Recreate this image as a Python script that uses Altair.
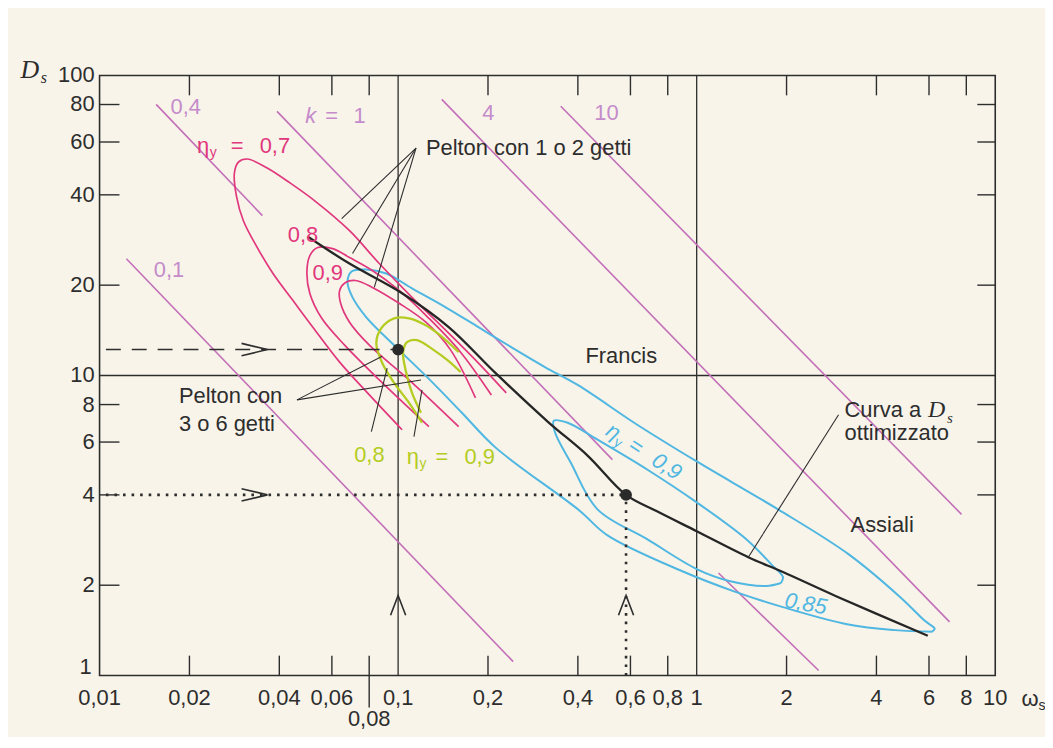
import altair as alt
import pandas as pd

# ---------------- data ----------------
x_tick_labels = [0.01, 0.02, 0.04, 0.06, 0.1, 0.2, 0.4, 0.6, 0.8, 1, 2, 4, 6, 8, 10]
x_tick_text = ["0,01", "0,02", "0,04", "0,06", "0,1", "0,2", "0,4", "0,6", "0,8", "1", "2", "4", "6", "8", "10"]
x_minor_ticks = [0.02, 0.04, 0.06, 0.08, 0.2, 0.4, 0.6, 0.8, 2, 4, 6, 8]
x_low_label = [0.08]
x_low_text = ["0,08"]
y_tick_labels = [2, 4, 6, 8, 10, 20, 40, 60, 80, 100]
y_tick_text = ["2", "4", "6", "8", "10", "20", "40", "60", "80", "100"]
y_bottom_label = [1]
y_bottom_text = ["1"]
y_minor_ticks = [2, 4, 6, 8, 20, 40, 60, 80]
ref_x = [0.1, 1]
ref_y = [10]

# constant-k diagonal lines (segments)
k_seg_id = ["0,1", "0,4", "1a", "1b", "4", "10"]
k_x_start = [0.0123, 0.01547, 0.0393, 1.183, 0.140, 0.3506]
k_y_start = [24.5, 80.1, 75.9, 2.196, 83.2, 78.9]
k_x_end = [0.2428, 0.0351, 0.522, 2.562, 7.03, 7.71]
k_y_end = [1.113, 34.1, 5.245, 1.039, 1.51, 3.445]
k_label_text = ["0,1", "0,4", "4", "10"]
k_label_x = [0.01708, 0.01945, 0.2006, 0.4985]
k_label_y = [22.4, 78.3, 74.8, 74.8]
k1_label_x = [0.051]
k1_label_y = [73.1]

# Pelton 1-2 jets efficiency contours (magenta)
p07_x = [0.1031, 0.0801, 0.0637, 0.0518, 0.0444, 0.0381, 0.03375, 0.03032, 0.02873, 0.02829, 0.02918,
         0.03126, 0.03643, 0.04344, 0.05258, 0.06875, 0.08647, 0.1113, 0.1443, 0.1858, 0.2302]
p07_y = [6.596, 8.615, 11.08, 14.49, 17.80, 21.88, 26.69, 32.80, 39.70, 47.32, 51.45,
         52.65, 49.15, 43.83, 38.20, 30.38, 23.61, 18.21, 14.16, 11.00, 8.75]
p08_x = [0.1268, 0.0865, 0.0662, 0.05549, 0.05063, 0.04948, 0.05063, 0.05381, 0.06035, 0.06875,
         0.08195, 0.1008, 0.1268, 0.1619, 0.2052]
p08_y = [6.749, 9.663, 12.62, 15.51, 18.77, 22.04, 25.10, 26.69, 26.48, 24.72,
         22.38, 19.21, 15.51, 11.96, 8.615]
p09_x = [0.1595, 0.1088, 0.0801, 0.06875, 0.06419, 0.0637, 0.06667, 0.07197, 0.08195, 0.1008,
         0.1239, 0.1500, 0.1816]
p09_y = [6.749, 9.663, 12.62, 15.05, 17.40, 19.21, 20.42, 20.73, 19.66, 17.40,
         15.05, 12.15, 8.421]

# Pelton 3-6 jets contours (green)
g08_x = [0.1202, 0.1088, 0.09698, 0.08848, 0.08451, 0.0878, 0.09698, 0.1088, 0.122, 0.1368, 0.1595]
g08_y = [6.958, 8.105, 9.443, 11.00, 12.82, 14.37, 15.51, 15.51, 14.82, 13.73, 11.96]
g09_x = [0.1193, 0.1113, 0.1063, 0.1039, 0.1071, 0.1156, 0.1317, 0.1477, 0.1619]
g09_y = [7.51, 8.75, 10.27, 11.96, 12.92, 13.12, 12.15, 11.17, 10.27]

# Francis contours (blue)
f085_x = [6.13, 4.618, 3.223, 1.945, 1.341, 0.8913, 0.5012, 0.4045, 0.2117, 0.1632, 0.1268, 0.09849,
          0.07826, 0.07036, 0.06769, 0.06982, 0.07826, 0.09124, 0.1113, 0.1443, 0.1858, 0.2392,
          0.3102, 0.3994, 0.6322, 1.0, 1.873, 3.223, 4.798, 5.809, 6.27, 6.13]
f085_y = [1.399, 1.417, 1.479, 1.690, 1.904, 2.230, 2.938, 3.55, 5.76, 7.53, 9.74, 12.43,
          15.63, 18.21, 20.42, 22.21, 22.55, 21.88, 19.51, 16.87, 14.49, 12.43,
          10.67, 9.299, 6.852, 5.17, 3.58, 2.539, 1.828, 1.522, 1.432, 1.399]
f09_x = [1.916, 1.708, 1.287, 1.0, 0.6823, 0.4654, 0.3785, 0.3348, 0.3322, 0.3699, 0.4654, 0.6823,
         1.0, 1.466, 1.775, 1.945, 1.916]
f09_y = [2.034, 1.988, 2.066, 2.264, 2.847, 3.58, 5.127, 6.496, 7.065, 6.958, 6.109, 4.86,
         3.777, 2.847, 2.352, 2.13, 2.034]

# optimised-Ds curve (black)
opt_x = [0.0499, 0.0687, 0.1031, 0.1477, 0.2117, 0.3175, 0.431, 0.58, 0.7363, 1.0, 1.489, 1.945, 2.918, 5.943]
opt_y = [29.0, 23.6, 18.8, 14.5, 10.2, 7.01, 5.41, 4.0, 3.526, 3.026, 2.48, 2.213, 1.842, 1.357]

# design points and guide lines
dot_x = [0.1, 0.58]
dot_y = [12.2, 4.0]
dash_x = [0.0105, 0.1]
dash_y = [12.2, 12.2]
dotted_id = ["h", "h", "v", "v"]
dotted_x = [0.0105, 0.58, 0.58, 0.58]
dotted_y = [4.0, 4.0, 1.0, 4.0]
arrow_r_x = [0.0365, 0.0365]
arrow_r_y = [12.2, 4.0]
arrow_u_x = [0.1, 0.58]
arrow_u_y = [1.85, 1.85]

# leader lines
lead_x0 = [0.1148, 0.1148, 0.1148, 0.04583, 0.04583, 0.08133, 0.113, 2.987]
lead_y0 = [57.28, 57.28, 57.28, 8.293, 8.293, 6.496, 6.252, 7.396]
lead_x1 = [0.0647, 0.07036, 0.0832, 0.08848, 0.1193, 0.0919, 0.1202, 1.489]
lead_y1 = [33.3, 25.49, 19.66, 11.6, 9.663, 10.59, 8.951, 2.48]

# annotations
dark_text = ["Pelton con 1 o 2 getti", "Pelton con", "3 o 6 getti", "Curva a", "ottimizzato"]
dark_text_x = [0.1239, 0.01844, 0.01844, 3.126, 3.126]
dark_text_y = [57.28, 8.551, 6.906, 7.685, 6.446]
center_text = ["Francis", "Assiali"]
center_text_x = [0.5592, 4.181]
center_text_y = [11.6, 3.17]
mag_small = ["0,8", "0,9"]
mag_small_x = [0.048, 0.05809]
mag_small_y = [29.47, 21.88]
eta_mag = (0.02224, 58.16, "0,7")
eta_green = (0.1121, 5.366, "0,9")
eta_blue = (0.5258, 6.496, "0,9")
green_small = (0.0801, 5.45, "0,8")
blue_085 = (2.32, 1.734, "0,85")

# ---------------- styling ----------------
FONT = "Liberation Sans"
SERIF = "Liberation Serif"
FS = 22
W, H = 900, 603
DARK = "#2d2d2d"
KLINE = "#c36fb8"
KLABEL = "#c58bca"
MAG = "#e1377c"
BLUE = "#4fb7e1"
GREEN = "#b4cc22"
BG = "#f8f4ea"

xscale = alt.Scale(type="log", domain=[0.01, 10], nice=False)
yscale = alt.Scale(type="log", domain=[1, 100], nice=False)


def X():
    return alt.X("x:Q", scale=xscale, axis=None, title=None)


def Y():
    return alt.Y("y:Q", scale=yscale, axis=None, title=None)


def curve_df(named):
    rows = []
    for cid, xs, ys in named:
        for i, (a, b) in enumerate(zip(xs, ys)):
            rows.append({"id": cid, "i": i, "x": a, "y": b})
    return pd.DataFrame(rows)


def seg_df(ids, x0, y0, x1, y1):
    rows = []
    for k, a, b, c, d in zip(ids, x0, y0, x1, y1):
        rows.append({"id": k, "i": 0, "x": a, "y": b})
        rows.append({"id": k, "i": 1, "x": c, "y": d})
    return pd.DataFrame(rows)


def line_layer(df, color, width, dash=None, interp="linear", cap="butt"):
    kw = dict(color=color, strokeWidth=width, interpolate=interp, strokeCap=cap)
    if dash:
        kw["strokeDash"] = dash
    return alt.Chart(df).mark_line(**kw).encode(x=X(), y=Y(), detail="id:N", order="i:Q")


def text_layer(xs, ys, texts, color, size=FS, align="center", font=FONT, style="normal",
               angle=0, dx=0, dy=0, baseline="middle"):
    df = pd.DataFrame({"x": xs, "y": ys, "t": texts})
    kw = dict(color=color, fontSize=size, align=align, baseline=baseline, font=font,
              fontStyle=style, dx=dx, dy=dy)
    if angle:
        kw["angle"] = angle
    return alt.Chart(df).mark_text(**kw).encode(x=X(), y=Y(), text="t:N")


def eta_label(spec, color, angle=0, sub_dx=9, eq_dx=32, val_dx=70, style="normal"):
    x, y, val = spec
    return [
        text_layer([x], [y], ["η"], color, size=FS, angle=angle, style=style),
        text_layer([x], [y], ["y"], color, size=14, angle=angle, dx=sub_dx, dy=7),
        text_layer([x], [y], ["="], color, size=FS, angle=angle, dx=eq_dx, style=style),
        text_layer([x], [y], [val], color, size=FS, angle=angle, dx=val_dx, style=style),
    ]


layers = []

# reference lines
layers.append(alt.Chart(pd.DataFrame({"x": ref_x})).mark_rule(color=DARK, strokeWidth=1.3)
              .encode(x=X()))
layers.append(alt.Chart(pd.DataFrame({"y": ref_y})).mark_rule(color=DARK, strokeWidth=1.3)
              .encode(y=Y()))

# tick labels
layers.append(alt.Chart(pd.DataFrame({"x": x_tick_labels, "t": x_tick_text}))
              .mark_text(font=FONT, fontSize=FS, color=DARK, baseline="middle", align="center")
              .encode(x=X(), y=alt.value(H + 23), text="t:N"))
layers.append(alt.Chart(pd.DataFrame({"y": y_tick_labels, "t": y_tick_text}))
              .mark_text(font=FONT, fontSize=FS, color=DARK, baseline="middle", align="right")
              .encode(y=Y(), x=alt.value(-5), text="t:N"))
layers.append(alt.Chart(pd.DataFrame({"y": y_bottom_label, "t": y_bottom_text}))
              .mark_text(font=FONT, fontSize=FS, color=DARK, baseline="middle", align="right", dy=-9)
              .encode(y=Y(), x=alt.value(-8), text="t:N"))

# inward ticks on all four sides
dfx = pd.DataFrame({"x": x_minor_ticks})
dfy = pd.DataFrame({"y": y_minor_ticks})
layers.append(alt.Chart(dfx).mark_rule(color=DARK, strokeWidth=1.4)
              .encode(x=X(), y=alt.value(H), y2=alt.value(H - 20)))
layers.append(alt.Chart(dfx).mark_rule(color=DARK, strokeWidth=1.4)
              .encode(x=X(), y=alt.value(0), y2=alt.value(20)))
layers.append(alt.Chart(dfy).mark_rule(color=DARK, strokeWidth=1.4)
              .encode(y=Y(), x=alt.value(0), x2=alt.value(20)))
layers.append(alt.Chart(dfy).mark_rule(color=DARK, strokeWidth=1.4)
              .encode(y=Y(), x=alt.value(W), x2=alt.value(W - 18)))
df08 = pd.DataFrame({"x": x_low_label, "t": x_low_text})
layers.append(alt.Chart(df08).mark_rule(color=DARK, strokeWidth=1.4)
              .encode(x=X(), y=alt.value(H), y2=alt.value(H + 32)))
layers.append(alt.Chart(df08).mark_text(font=FONT, fontSize=FS, color=DARK, baseline="middle")
              .encode(x=X(), y=alt.value(H + 44), text="t:N"))

# constant-k lines and their labels
layers.append(line_layer(seg_df(k_seg_id, k_x_start, k_y_start, k_x_end, k_y_end), KLINE, 1.6))
layers.append(text_layer(k_label_x, k_label_y, k_label_text, KLABEL))
layers.append(text_layer(k1_label_x, k1_label_y, ["k"], KLABEL, style="italic"))
layers.append(text_layer(k1_label_x, k1_label_y, ["="], KLABEL, dx=21))
layers.append(text_layer(k1_label_x, k1_label_y, ["1"], KLABEL, dx=49))

# efficiency contours
layers.append(line_layer(curve_df([("f085", f085_x, f085_y), ("f09", f09_x, f09_y)]), BLUE, 2.0,
                         interp="catmull-rom"))
layers.append(line_layer(curve_df([("p07", p07_x, p07_y), ("p08", p08_x, p08_y), ("p09", p09_x, p09_y)]),
                         MAG, 1.7, interp="catmull-rom"))
layers.append(line_layer(curve_df([("g08", g08_x, g08_y), ("g09", g09_x, g09_y)]), GREEN, 2.3,
                         interp="catmull-rom"))

# leader lines
layers.append(line_layer(seg_df(list(range(len(lead_x0))), lead_x0, lead_y0, lead_x1, lead_y1), DARK, 1.1))

# optimised curve
layers.append(line_layer(curve_df([("opt", opt_x, opt_y)]), "#262626", 2.3, interp="catmull-rom"))

# guide lines, arrows and dots
layers.append(line_layer(curve_df([("d", dash_x, dash_y)]), DARK, 1.5, dash=[15, 11]))
dotted = pd.DataFrame({"id": dotted_id, "i": [0, 1, 0, 1], "x": dotted_x, "y": dotted_y})
layers.append(line_layer(dotted, DARK, 2.6, dash=[2.6, 6]))
layers.append(alt.Chart(pd.DataFrame({"x": arrow_r_x, "y": arrow_r_y}))
              .mark_point(shape="M -1 -0.24 L 0 0 L -1 0.24", size=2704, filled=False,
                          color=DARK, strokeWidth=1.6, opacity=1)
              .encode(x=X(), y=Y()))
layers.append(alt.Chart(pd.DataFrame({"x": arrow_u_x, "y": arrow_u_y}))
              .mark_point(shape="M -1 -0.38 L 0 0 L -1 0.38", size=1600, filled=False, angle=270,
                          color=DARK, strokeWidth=1.6, opacity=1)
              .encode(x=X(), y=Y()))
layers.append(alt.Chart(pd.DataFrame({"x": dot_x, "y": dot_y}))
              .mark_point(shape="circle", size=140, filled=True, color="#2a2a2a", opacity=1)
              .encode(x=X(), y=Y()))

# texts
layers.append(text_layer(dark_text_x, dark_text_y, dark_text, DARK, align="left"))
layers.append(text_layer([dark_text_x[3]], [dark_text_y[3]], ["D"], DARK, size=24, align="left",
                         font=SERIF, style="italic", dx=84))
layers.append(text_layer([dark_text_x[3]], [dark_text_y[3]], ["s"], DARK, size=15, align="left",
                         font=SERIF, style="italic", dx=103, dy=8))
layers.append(text_layer(center_text_x, center_text_y, center_text, DARK))
layers.append(text_layer(mag_small_x, mag_small_y, mag_small, MAG))
layers += eta_label(eta_mag, MAG, sub_dx=10, eq_dx=34, val_dx=72)
layers.append(text_layer([green_small[0]], [green_small[1]], [green_small[2]], GREEN))
layers += eta_label(eta_green, GREEN, sub_dx=10, eq_dx=29, val_dx=67)
layers += eta_label(eta_blue, BLUE, angle=33, sub_dx=10, eq_dx=27, val_dx=64, style="italic")
layers.append(text_layer([blue_085[0]], [blue_085[1]], [blue_085[2]], BLUE, style="italic", angle=10))

# axis titles (D_s, omega_s)
title_df = pd.DataFrame({"x": [0.01], "y": [1.0]})
layers.append(alt.Chart(title_df).mark_text(text="D", font=SERIF, fontStyle="italic", fontSize=26,
                                            color=DARK, baseline="middle", align="center")
              .encode(x=alt.value(-70), y=alt.value(-5)))
layers.append(alt.Chart(title_df).mark_text(text="s", font=SERIF, fontStyle="italic", fontSize=16,
                                            color=DARK, baseline="middle", align="center")
              .encode(x=alt.value(-56), y=alt.value(3)))
layers.append(alt.Chart(title_df).mark_text(text="ω", font=FONT, fontSize=22,
                                            color=DARK, baseline="middle", align="center")
              .encode(x=alt.value(W + 35), y=alt.value(H + 24)))
layers.append(alt.Chart(title_df).mark_text(text="s", font=FONT, fontSize=14,
                                            color=DARK, baseline="middle", align="center")
              .encode(x=alt.value(W + 47), y=alt.value(H + 31)))

chart = (
    alt.layer(*layers)
    .properties(width=W, height=H, background=BG,
                padding={"left": 92, "top": 66, "right": 50, "bottom": 60},
                autosize=alt.AutoSizeParams(type="none"))
    .configure_view(stroke=DARK, strokeWidth=1.6)
)

chart.save("out.html", embed_options={"renderer": "svg", "actions": False})
